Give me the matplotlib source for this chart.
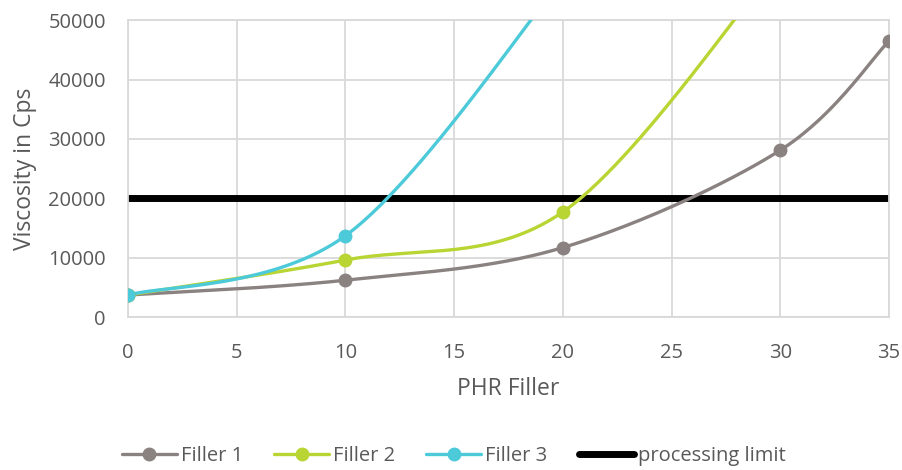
import numpy as np
import matplotlib
matplotlib.use("Agg")
import matplotlib.pyplot as plt

plt.rcParams['font.family'] = ['Open Sans', 'DejaVu Sans']

phr1 = [0, 10, 20, 30, 35]
filler1 = [3700, 6200, 11700, 28100, 46500]
phr2 = [0, 10, 20, 30]
filler2 = [3700, 9600, 17700, 60000]
phr3 = [0, 10, 20]
filler3 = [3700, 13700, 57000]
limit_x = [0, 35]
limit_y = [20000, 20000]

xticks = [0, 5, 10, 15, 20, 25, 30, 35]
yticks = [0, 10000, 20000, 30000, 40000, 50000]


def smooth(xs, ys, n=60):
    P = np.column_stack([xs, ys]).astype(float)
    out = []
    for i in range(len(P) - 1):
        p0 = P[i - 1] if i > 0 else P[i]
        p1 = P[i]
        p2 = P[i + 1]
        p3 = P[i + 2] if i + 2 < len(P) else P[i + 1]
        c1 = p1 + (p2 - p0) / 6
        c2 = p2 - (p3 - p1) / 6
        t = np.linspace(0, 1, n)[:, None]
        seg = ((1 - t) ** 3) * p1 + 3 * ((1 - t) ** 2) * t * c1 + 3 * (1 - t) * t ** 2 * c2 + t ** 3 * p2
        out.append(seg if i == 0 else seg[1:])
    s = np.vstack(out)
    return s[:, 0], s[:, 1]


c1 = '#8A8280'
c2 = '#B8D534'
c3 = '#4CCAD9'

fig = plt.figure(figsize=(9.02, 4.70), dpi=100)
ax = fig.add_axes([0.142, 0.3255, 0.8436, 0.6315])

for xs, ys, col, lab in [(phr1, filler1, c1, 'Filler 1'),
                         (phr2, filler2, c2, 'Filler 2'),
                         (phr3, filler3, c3, 'Filler 3')]:
    sx, sy = smooth(xs, ys)
    ax.plot(sx, sy, color=col, lw=2.4, solid_capstyle='round', zorder=3)
    ax.plot(xs, ys, 'o', color=col, ms=9, zorder=4)
    ax.plot([], [], '-o', color=col, lw=2.4, ms=9, label=lab)

ax.plot(limit_x, limit_y, color='black', lw=5, label='processing limit', zorder=2)

ax.set_xlim(0, 35)
ax.set_ylim(0, 50000)
ax.set_xticks(xticks)
ax.set_yticks(yticks)
ax.set_xticklabels([str(v) for v in xticks])
ax.set_yticklabels([str(v) for v in yticks])
ax.grid(True, color='#D9D9D9', lw=1.3)
ax.set_axisbelow(True)
for s in ax.spines.values():
    s.set_color('#D9D9D9')
    s.set_linewidth(1.3)
ax.tick_params(length=0, labelsize=14.5, colors='#595959')
ax.tick_params(axis='x', pad=19)
ax.tick_params(axis='y', pad=16)
ax.set_xlabel('PHR Filler', fontsize=16.5, color='#595959', labelpad=10)
ax.set_ylabel('Viscosity in Cps', fontsize=16.5, color='#595959', labelpad=8)

leg = fig.legend(loc='center', bbox_to_anchor=(0.503, 0.029), ncol=4, frameon=False,
                 fontsize=14.5, handlelength=2.73, handletextpad=0.2, columnspacing=1.54)
for t in leg.get_texts():
    t.set_color('#595959')
for h in leg.legend_handles:
    h.set_solid_capstyle('round')

fig.savefig('out.png', dpi=100)
